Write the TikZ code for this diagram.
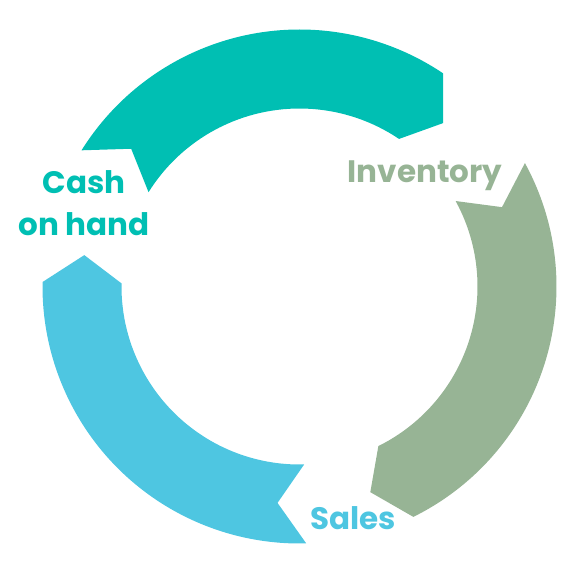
\documentclass[tikz,border=0pt]{standalone}
\usepackage{fontspec}
\setmainfont{Poppins}
\definecolor{cteal}{RGB}{0,191,179}
\definecolor{cgreen}{RGB}{151,180,149}
\definecolor{cblue}{RGB}{78,198,225}
\begin{document}
\begin{tikzpicture}[x=1pt,y=1pt,
  lbl/.style={inner sep=0pt, font=\fontsize{31}{36}\selectfont\bfseries}]
\useasboundingbox (0,0) rectangle (575,-575);
\coordinate (C) at (299.5,-286.5);
\def\Ro{257}\def\Ri{178}\def\Rm{217.5}\def\dd{7.3}
% teal: tail 148 -> head 56
\fill[cteal] ([shift={(C)}]148:\Ro) arc[start angle=148,end angle=56,radius=\Ro]
  -- ([shift={(C)}]{56-\dd}:\Rm) -- ([shift={(C)}]56:\Ri)
  arc[start angle=56,end angle=148,radius=\Ri]
  -- ([shift={(C)}]{148-\dd}:\Rm) -- cycle;
% green: tail 28.7 -> head -63.7
\fill[cgreen] ([shift={(C)}]28.7:\Ro) arc[start angle=28.7,end angle=-63.7,radius=\Ro]
  -- ([shift={(C)}]{-63.7-\dd}:\Rm) -- ([shift={(C)}]-63.7:\Ri)
  arc[start angle=-63.7,end angle=28.7,radius=\Ri]
  -- ([shift={(C)}]{28.7-\dd}:\Rm) -- cycle;
% blue: tail -88.5 -> head -181
\fill[cblue] ([shift={(C)}]-88.5:\Ro) arc[start angle=-88.5,end angle=-181,radius=\Ro]
  -- ([shift={(C)}]{-181-\dd}:\Rm) -- ([shift={(C)}]-181:\Ri)
  arc[start angle=-181,end angle=-88.5,radius=\Ri]
  -- ([shift={(C)}]{-88.5-\dd}:\Rm) -- cycle;
% labels
\node[lbl, text=cgreen, anchor=base] (inv) at (425,-182) {Inventory};
\node[lbl, text=cblue, anchor=base] (sales) at (353,-529) {Sales};
\node[lbl, text=cteal, anchor=base] (cash1) at (84,-193) {Cash};
\node[lbl, text=cteal, anchor=base] (cash2) at (84,-235) {on hand};
\end{tikzpicture}
\end{document}
